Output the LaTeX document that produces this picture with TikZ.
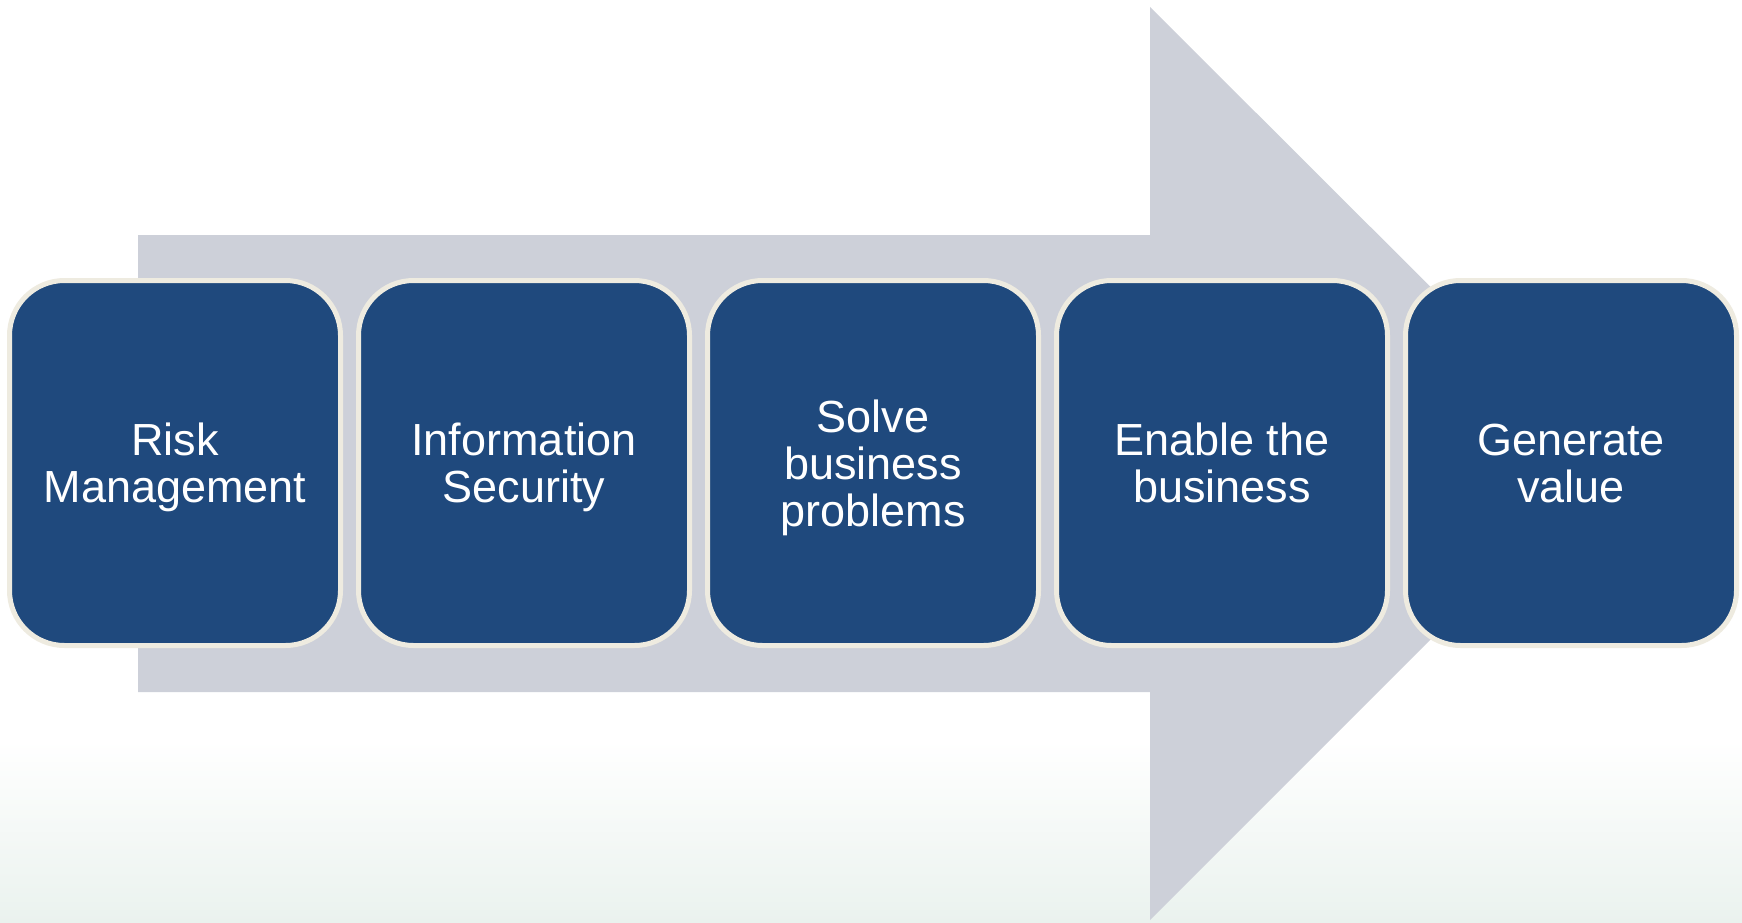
\documentclass[tikz,border=0pt]{standalone}
\usepackage{fontspec}
\setmainfont{Liberation Sans}
\definecolor{boxblue}{HTML}{1F497D}
\definecolor{boxrim}{HTML}{EEEBE0}
\definecolor{arrowgray}{HTML}{CDD0D9}
\definecolor{bgtint}{HTML}{EAF2EE}
\tikzset{
  stagebox/.style={draw=boxrim, line width=5pt, fill=boxblue, text=white,
    rounded corners=55pt, minimum width=331pt, minimum height=365pt,
    inner sep=0pt, align=center, text depth=0pt, font=\fontsize{45pt}{47pt}\selectfont},
  bigarrow/.style={fill=arrowgray, draw=none}
}
\begin{document}
\begin{tikzpicture}[x=1pt,y=-1pt]
\useasboundingbox (0,0) rectangle (1742,923);
\fill[white] (0,0) rectangle (1742,923);
\shade[top color=white, bottom color=bgtint, draw=none] (0,740) rectangle (1742,923);
\fill[bigarrow] (138,235) -- (1150,235) -- (1150,7) -- (1607,463) -- (1150,920) -- (1150,692) -- (138,692) -- cycle;
\node[stagebox] (s1) at (175,463) {Risk\\Management};
\node[stagebox] (s2) at (524,463) {Information\\Security};
\node[stagebox] (s3) at (873,463) {Solve\\business\\problems};
\node[stagebox] (s4) at (1222,463) {Enable the\\business};
\node[stagebox] (s5) at (1571,463) {Generate\\value};
\end{tikzpicture}
\end{document}
